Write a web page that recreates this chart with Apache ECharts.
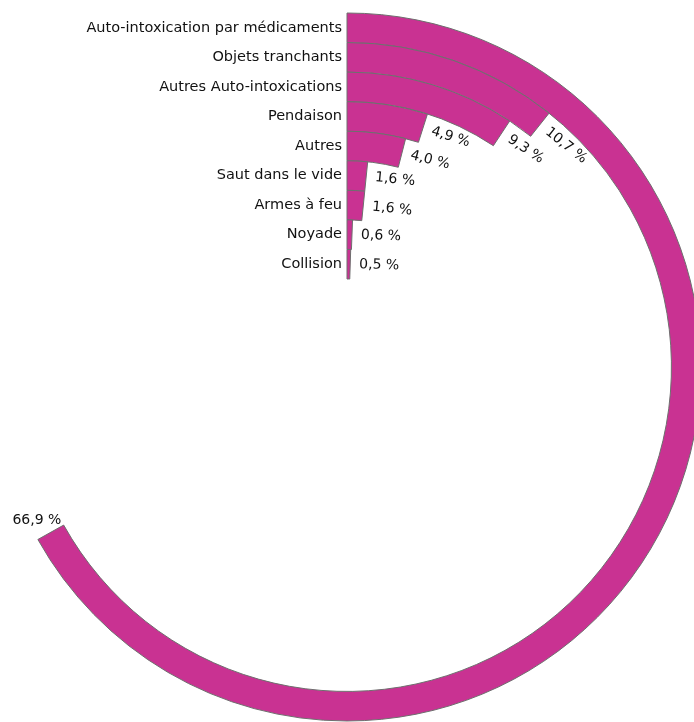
<!DOCTYPE html>
<html>
<head>
<meta charset="utf-8">
<script src="https://cdn.jsdelivr.net/npm/echarts@6/dist/echarts.min.js"></script>
<style>
  html, body { margin: 0; padding: 0; background: #fff; }
  #chart { width: 694px; height: 722px; }
</style>
</head>
<body>
<div id="chart"></div>
<script>
// categories, outermost ring first
var categories = [
  'Auto-intoxication par médicaments',
  'Objets tranchants',
  'Autres Auto-intoxications',
  'Pendaison',
  'Autres',
  'Saut dans le vide',
  'Armes à feu',
  'Noyade',
  'Collision'
]
var shares = [66.9, 10.7, 9.3, 4.9, 4.0, 1.6, 1.6, 0.6, 0.5]

var fontFamily = '"DejaVu Sans", sans-serif'

var chart = echarts.init(document.getElementById('chart'), null, { renderer: 'canvas' })

var seriesData = shares.map(function(v, i) {
  var item = { value: v }
  // the big ring ends upside down, keep its label flat
  if (i === 0) {
    item.label = { rotate: 0, position: 'end', offset: [-34, -4] }
  }
  return item
})

var option = {
  backgroundColor: '#fff',
  animation: false,
  polar: {
    center: [347, 367],
    radius: [88, 354]
  },
  angleAxis: {
    type: 'value',
    min: 0,
    max: 100,
    startAngle: 90,
    clockwise: true,
    axisLine: { show: false },
    axisTick: { show: false },
    axisLabel: { show: false },
    splitLine: { show: false }
  },
  radiusAxis: {
    type: 'category',
    data: categories,
    inverse: true,
    axisLine: { show: false },
    axisTick: { show: false },
    splitLine: { show: false },
    axisLabel: {
      interval: 0,
      color: '#111',
      fontSize: 14.5,
      fontFamily: fontFamily,
      margin: 5
    }
  },
  series: [
    {
      type: 'bar',
      coordinateSystem: 'polar',
      data: seriesData,
      barCategoryGap: '0%',
      itemStyle: {
        color: '#c93292',
        borderColor: '#6f6f6f',
        borderWidth: 1
      },
      label: {
        show: true,
        position: 'end',
        distance: 9,
        color: '#111',
        fontSize: 14,
        fontFamily: fontFamily,
        formatter: function(p) {
          return p.value.toFixed(1).replace('.', ',') + ' %'
        }
      }
    }
  ]
}

chart.setOption(option)
</script>
</body>
</html>
